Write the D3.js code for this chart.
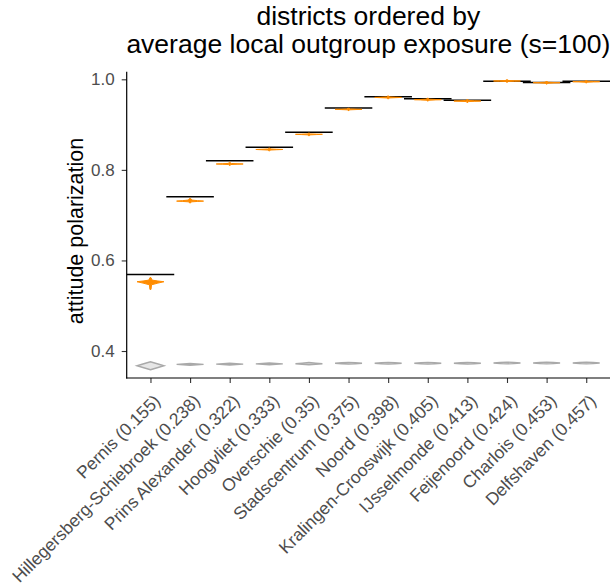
<!DOCTYPE html>
<html>
<head>
<meta charset="utf-8">
<script src="https://cdn.jsdelivr.net/npm/d3@7"></script>
<style>
  html, body { margin: 0; padding: 0; background: #fff; }
  svg { display: block; font-family: "Liberation Sans", Arial, sans-serif; }
</style>
</head>
<body>
<svg id="chart" width="612" height="585"></svg>
<script>
// ---- data ----
const districts = [
  "Pernis (0.155)", "Hillegersberg-Schiebroek (0.238)", "Prins Alexander (0.322)",
  "Hoogvliet (0.333)", "Overschie (0.35)", "Stadscentrum (0.375)", "Noord (0.398)",
  "Kralingen-Crooswijk (0.405)", "IJsselmonde (0.413)", "Feijenoord (0.424)",
  "Charlois (0.453)", "Delfshaven (0.457)"
];
// black reference line per district
const refValues = [0.569, 0.7405, 0.820, 0.850, 0.883, 0.9366, 0.9616, 0.957, 0.9536, 0.9956, 0.993, 0.9956];
// orange violins (mode, low, high)
const orangeMid  = [0.553, 0.731, 0.813, 0.845, 0.8785, 0.9337, 0.960, 0.955, 0.952, 0.9963, 0.9925, 0.9947];
const orangeLow  = [0.536, 0.727, 0.810, 0.842, 0.8755, 0.931, 0.957, 0.952, 0.949, 0.9935, 0.9895, 0.992];
const orangeHigh = [0.562, 0.737, 0.816, 0.848, 0.881, 0.936, 0.963, 0.958, 0.955, 0.999, 0.995, 0.997];
// grey violins (mode, low, high)
const greyMid  = [0.3675, 0.3705, 0.371, 0.3715, 0.372, 0.373, 0.373, 0.373, 0.373, 0.3735, 0.3735, 0.3735];
const greyLow  = [0.3587, 0.3685, 0.369, 0.3695, 0.3695, 0.371, 0.371, 0.371, 0.371, 0.3715, 0.3715, 0.3715];
const greyHigh = [0.3763, 0.3725, 0.373, 0.3735, 0.3745, 0.375, 0.375, 0.375, 0.375, 0.3755, 0.3755, 0.3755];
const yTicks = [0.4, 0.6, 0.8, 1.0];
const titleLines = ["districts ordered by", "average local outgroup exposure (s=100)"];
const yTitle = "attitude polarization";

// ---- layout ----
const svg = d3.select("#chart");
const panel = { left: 126.7, right: 610, top: 71.7, bottom: 378 };
const FONT = "'Liberation Sans', Arial, sans-serif";

const x = d3.scalePoint().domain(districts).range([panel.left, panel.right]).padding(0.6);
const y = d3.scaleLinear().domain([0.3404, 1.0168]).range([panel.bottom, panel.top]);
const step = x.step();

// violin profiles: [relative position (-1 low .. 0 mode .. 1 high), relative half-width]
const orangeProfile = [[-1, 0.04], [-0.4, 0.08], [-0.18, 0.55], [0, 1], [0.18, 0.55], [0.4, 0.12], [1, 0.04]];
const greyProfile = [[-1, 0], [-0.5, 0.5], [0, 1], [0.5, 0.5], [1, 0]];
const halfW = 0.34 * step;

function violinPath(cx, mid, lo, hi, profile) {
  const pts = profile.map(([t, w]) => {
    const v = t < 0 ? mid + t * (mid - lo) : mid + t * (hi - mid);
    return [y(v), w * halfW];
  });
  const right = pts.map(([py, w]) => [cx + w, py]);
  const left = pts.slice().reverse().map(([py, w]) => [cx - w, py]);
  return d3.line().curve(d3.curveLinearClosed)(right.concat(left));
}

// reference lines
svg.append("g").selectAll("line").data(districts).join("line")
  .attr("x1", d => x(d) - 0.6 * step)
  .attr("x2", d => x(d) + 0.6 * step)
  .attr("y1", (d, i) => y(refValues[i]))
  .attr("y2", (d, i) => y(refValues[i]))
  .attr("stroke", "#000").attr("stroke-width", 1.6);

// orange violins
svg.append("g").selectAll("path").data(districts).join("path")
  .attr("d", (d, i) => violinPath(x(d), orangeMid[i], orangeLow[i], orangeHigh[i], orangeProfile))
  .attr("fill", "#FF8C00").attr("stroke", "#FF8C00").attr("stroke-width", 1);

// grey violins
svg.append("g").selectAll("path").data(districts).join("path")
  .attr("d", (d, i) => violinPath(x(d), greyMid[i], greyLow[i], greyHigh[i], greyProfile))
  .attr("fill", "#e6e6e6").attr("stroke", "#A9A9A9").attr("stroke-width", 1.4);

// axes
const yAxis = d3.axisLeft(y).tickValues(yTicks).tickFormat(d3.format(".1f")).tickSize(5).tickPadding(7);
const gy = svg.append("g").attr("transform", `translate(${panel.left},0)`).call(yAxis);
gy.attr("font-size", null).attr("font-family", null);
gy.select(".domain").remove();
gy.append("line").attr("x1", 0).attr("x2", 0).attr("y1", panel.top).attr("y2", panel.bottom + 0.6)
  .attr("stroke", "#000").attr("stroke-width", 1.2);
gy.selectAll(".tick line").attr("stroke", "#333").attr("stroke-width", 1.1);
gy.selectAll(".tick text").attr("fill", "#4D4D4D").style("font-size", "17px").style("font-family", FONT);

const xAxis = d3.axisBottom(x).tickSize(5).tickSizeOuter(0);
const gx = svg.append("g").attr("transform", `translate(0,${panel.bottom})`).call(xAxis);
gx.attr("font-size", null).attr("font-family", null);
gx.select(".domain").remove();
gx.append("line").attr("x1", panel.left - 0.6).attr("x2", panel.right).attr("y1", 0).attr("y2", 0)
  .attr("stroke", "#000").attr("stroke-width", 1.2);
gx.selectAll(".tick line").attr("stroke", "#333").attr("stroke-width", 1.1);
gx.selectAll(".tick text")
  .attr("fill", "#4D4D4D").style("font-size", "17.5px").style("font-family", FONT)
  .attr("text-anchor", "end")
  .attr("x", 0).attr("y", 0).attr("dy", null)
  .attr("transform", "translate(10.5,24) rotate(-45)");

// titles
svg.append("text").attr("x", (panel.left + panel.right) / 2).attr("y", 25)
  .attr("text-anchor", "middle").style("font-size", "26.5px").attr("fill", "#000").text(titleLines[0]);
svg.append("text").attr("x", (panel.left + panel.right) / 2).attr("y", 53)
  .attr("text-anchor", "middle").style("font-size", "26.5px").attr("fill", "#000").text(titleLines[1]);

svg.append("text")
  .attr("transform", `translate(83,231) rotate(-90)`)
  .attr("text-anchor", "middle").style("font-size", "21.5px").attr("fill", "#000").text(yTitle);
</script>
</body>
</html>
